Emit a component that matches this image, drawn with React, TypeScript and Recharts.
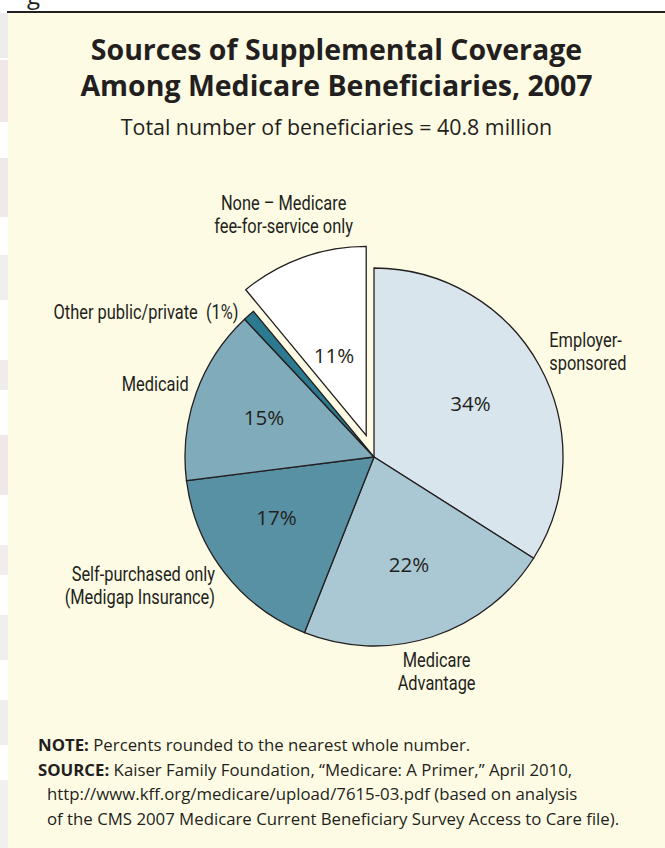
import React from 'react';
import { PieChart, Pie, Cell, Sector } from 'recharts';

// slices, clockwise from 12 o'clock
const categories = [
  'Employer-sponsored',
  'Medicare Advantage',
  'Self-purchased only (Medigap Insurance)',
  'Medicaid',
  'Other public/private',
  'None – Medicare fee-for-service only',
];
const shares = [34, 22, 17, 15, 1, 11];
const sliceColors = ['#d8e5ec', '#aac8d3', '#5890a4', '#80abbb', '#2b7a90', '#ffffff'];
const outerLabels = [
  ['Employer-', 'sponsored'],
  ['Medicare', 'Advantage'],
  ['Self-purchased only', '(Medigap Insurance)'],
  ['Medicaid'],
  ['Other public/private  (1%)'],
  ['None – Medicare', 'fee-for-service only'],
];
const exploded = ['None – Medicare fee-for-service only'];

const data = categories.map((name, i) => ({ name, value: shares[i] }));

const INK = '#231f20';
const CREAM = '#fefbe4';
const RAD = Math.PI / 180;
const EXPLODE = 23;
const LABEL_FONT = "Roboto, 'Liberation Sans', sans-serif";
const MAIN_FONT = "'Open Sans', 'Noto Sans', sans-serif";

// label placement per slice (radius from centre, optional angle override, anchor, nudge)
const LABEL_LAYOUT: any[] = [
  { inR: 110, outR: 200, anchor: 'start', dx: 0, dy: -10 },
  { inR: 113, outR: 222, anchor: 'middle', dx: -6, dy: 3 },
  { inR: 115, inA: 212, outR: 205, anchor: 'end', dx: 3, dy: 2 },
  { inR: 117, outR: 197, anchor: 'end', dx: 0, dy: -7 },
  { inR: 0, outR: 205, anchor: 'end', dx: 0, dy: 8 },
  { inR: 86, inA: 112, outR: 235, anchor: 'middle', dx: -3, dy: 0 },
];

const polar = (cx: number, cy: number, r: number, a: number) => ({
  x: cx + r * Math.cos(-a * RAD),
  y: cy + r * Math.sin(-a * RAD),
});

const offsetFor = (name: string, midAngle: number) => {
  if (!exploded.includes(name)) return { x: 0, y: 0 };
  return polar(0, 0, EXPLODE, midAngle);
};

const SliceShape = (props: any) => {
  const name = props.name ?? props.payload?.name;
  const mid = (props.startAngle + props.endAngle) / 2;
  const off = offsetFor(name, mid);
  return <Sector {...props} cx={props.cx + off.x} cy={props.cy + off.y} />;
};

const renderLabel = (props: any) => {
  const { cx, cy, midAngle, index } = props;
  const name = categories[index];
  const layout = LABEL_LAYOUT[index];
  const off = offsetFor(name, midAngle);
  const ccx = cx + off.x;
  const ccy = cy + off.y;
  const lines = outerLabels[index];
  const lh = 23;
  const op = polar(ccx, ccy, layout.outR, midAngle);
  const ox = op.x + layout.dx;
  const oy = op.y + layout.dy - ((lines.length - 1) * lh) / 2;
  const ip = polar(ccx, ccy, layout.inR, layout.inA ?? midAngle);
  return (
    <g>
      {layout.inR > 0 && (
        <text
          x={ip.x}
          y={ip.y}
          dy="0.36em"
          textAnchor="middle"
          fontFamily={MAIN_FONT}
          fontSize={20.5}
          fill={INK}
        >
          {shares[index]}%
        </text>
      )}
      {lines.map((ln, i) => (
        <text
          key={i}
          transform={`translate(${ox},${oy + i * lh}) scale(0.8,1)`}
          x={0}
          y={0}
          dy="0.36em"
          textAnchor={layout.anchor}
          fontFamily={LABEL_FONT}
          fontSize={20.5}
          fill={INK}
          style={{ whiteSpace: 'pre' }}
        >
          {ln}
        </text>
      ))}
    </g>
  );
};

const stripes = [
  [13, 58, '#eeeded'],
  [60, 122, '#f0e8e8'],
  [158, 217, '#efe9e9'],
  [255, 300, '#f0eeee'],
  [360, 390, '#f1ecec'],
  [435, 495, '#f0e8e8'],
  [545, 575, '#f1eded'],
  [615, 660, '#f0eeee'],
  [700, 745, '#eeeeee'],
  [780, 848, '#f1f0f0'],
];

export default function App() {
  return (
    <div
      style={{
        position: 'absolute',
        left: 0,
        top: 0,
        width: 665,
        height: 848,
        background: '#ffffff',
        overflow: 'hidden',
      }}
    >
      {stripes.map(([a, b, c], i) => (
        <div
          key={i}
          style={{
            position: 'absolute',
            left: 0,
            top: a as number,
            width: 8,
            height: (b as number) - (a as number),
            background: c as string,
          }}
        />
      ))}
      <div
        style={{
          position: 'absolute',
          left: 27,
          top: -22,
          fontFamily: MAIN_FONT,
          fontSize: 24,
          color: INK,
        }}
      >
        g
      </div>
      <div style={{ position: 'absolute', left: 7, top: 11, width: 658, height: 1.6, background: INK }} />
      <div style={{ position: 'absolute', left: 8, top: 13, width: 657, height: 835, background: CREAM }} />

      <div
        style={{
          position: 'absolute',
          left: 8,
          width: 657,
          top: 31,
          textAlign: 'center',
          fontFamily: MAIN_FONT,
          fontWeight: 700,
          fontSize: 28.5,
          lineHeight: '36px',
          color: INK,
        }}
      >
        Sources of Supplemental Coverage
        <br />
        Among Medicare Beneficiaries, 2007
      </div>
      <div
        style={{
          position: 'absolute',
          left: 8,
          width: 657,
          top: 112,
          textAlign: 'center',
          fontFamily: MAIN_FONT,
          fontSize: 21.4,
          color: INK,
        }}
      >
        Total number of beneficiaries = 40.8 million
      </div>

      <PieChart
        width={665}
        height={848}
        margin={{ top: 0, right: 0, bottom: 0, left: 0 }}
        style={{ position: 'absolute', left: 0, top: 0 }}
      >
        <Pie
          data={data}
          dataKey="value"
          nameKey="name"
          cx={374}
          cy={457}
          outerRadius={189}
          startAngle={90}
          endAngle={-270}
          stroke={INK}
          strokeWidth={1.3}
          labelLine={false}
          label={renderLabel}
          shape={SliceShape}
          inactiveShape={SliceShape}
          isAnimationActive={false}
        >
          {data.map((d, i) => (
            <Cell key={d.name} fill={sliceColors[i]} />
          ))}
        </Pie>
      </PieChart>

      <div
        style={{
          position: 'absolute',
          left: 38,
          top: 733,
          fontFamily: MAIN_FONT,
          fontSize: 16.8,
          lineHeight: '24.5px',
          color: INK,
        }}
      >
        <div>
          <b>NOTE:</b> Percents rounded to the nearest whole number.
        </div>
        <div>
          <b>SOURCE:</b> Kaiser Family Foundation, “Medicare: A Primer,” April 2010,
        </div>
        <div style={{ paddingLeft: 9 }}>
          http://www.kff.org/medicare/upload/7615-03.pdf (based on analysis
        </div>
        <div style={{ paddingLeft: 9 }}>
          of the CMS 2007 Medicare Current Beneficiary Survey Access to Care file).
        </div>
      </div>
    </div>
  );
}
